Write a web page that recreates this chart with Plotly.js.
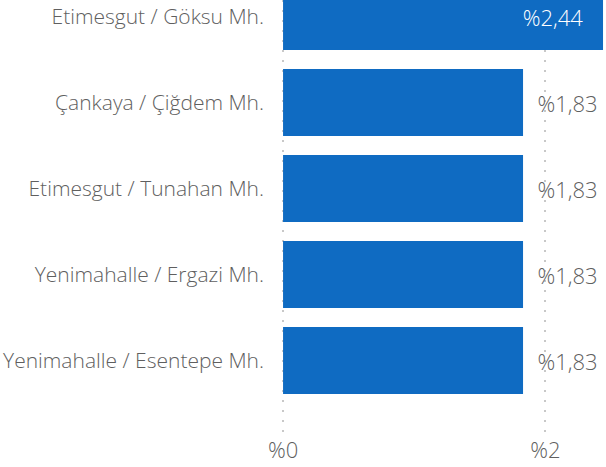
<!DOCTYPE html>
<html>
<head>
<meta charset="utf-8">
<script src="https://cdn.plot.ly/plotly-3.0.1.min.js"></script>
<style>html,body{margin:0;padding:0;background:#fff;}#chart{width:606px;height:467px;}</style>
</head>
<body>
<div id="chart"></div>
<script>
const categories = [
  "Etimesgut / Göksu Mh.",
  "Çankaya / Çiğdem Mh.",
  "Etimesgut / Tunahan Mh.",
  "Yenimahalle / Ergazi Mh.",
  "Yenimahalle / Esentepe Mh."
];
const values = [2.44, 1.83, 1.83, 1.83, 1.83];
const tickValues = [0, 2];
const tickLabels = ["%0", "%2"];

const fmt = v => "%" + v.toFixed(2).replace(".", ",");
const maxV = Math.max(...values);
const pad = "\u00a0\u00a0\u00a0";
const texts = values.map(v => v === maxV ? fmt(v) + pad : "\u00a0\u00a0" + fmt(v));
const positions = values.map(v => v === maxV ? "inside" : "outside");
const textColors = values.map(v => v === maxV ? "#ffffff" : "#5F5F5F");

const trace = {
  type: "bar",
  orientation: "h",
  y: categories,
  x: values,
  marker: {color: "#0F6BC2"},
  text: texts,
  textposition: positions,
  insidetextanchor: "end",
  textfont: {family: "Open Sans, sans-serif", size: 22, weight: 300, color: textColors},
  cliponaxis: false,
  hoverinfo: "none"
};

const layout = {
  width: 606, height: 467,
  margin: {l: 282, r: 1, t: 0, b: 35},
  paper_bgcolor: "#fff", plot_bgcolor: "#fff",
  bargap: 0.22,
  showlegend: false,
  font: {family: "Open Sans, sans-serif", color: "#5F5F5F"},
  xaxis: {
    range: [-0.008, 2.455],
    tickvals: tickValues,
    ticktext: tickLabels,
    showgrid: true,
    gridcolor: "#C8C8C8",
    griddash: "2px,8px",
    gridwidth: 2,
    zeroline: false,
    showline: false,
    ticks: "",
    ticklabelstandoff: 3,
    tickfont: {size: 22, weight: 300, color: "#5F5F5F"},
    fixedrange: true
  },
  yaxis: {
    type: "category",
    range: [4.831, -0.192],
    showgrid: false,
    zeroline: false,
    showline: false,
    ticks: "",
    ticklabelstandoff: 17,
    tickfont: {size: 21, weight: 300, color: "#5F5F5F"},
    fixedrange: true
  }
};

Plotly.newPlot("chart", [trace], layout, {displayModeBar: false, staticPlot: true});
</script>
</body>
</html>
